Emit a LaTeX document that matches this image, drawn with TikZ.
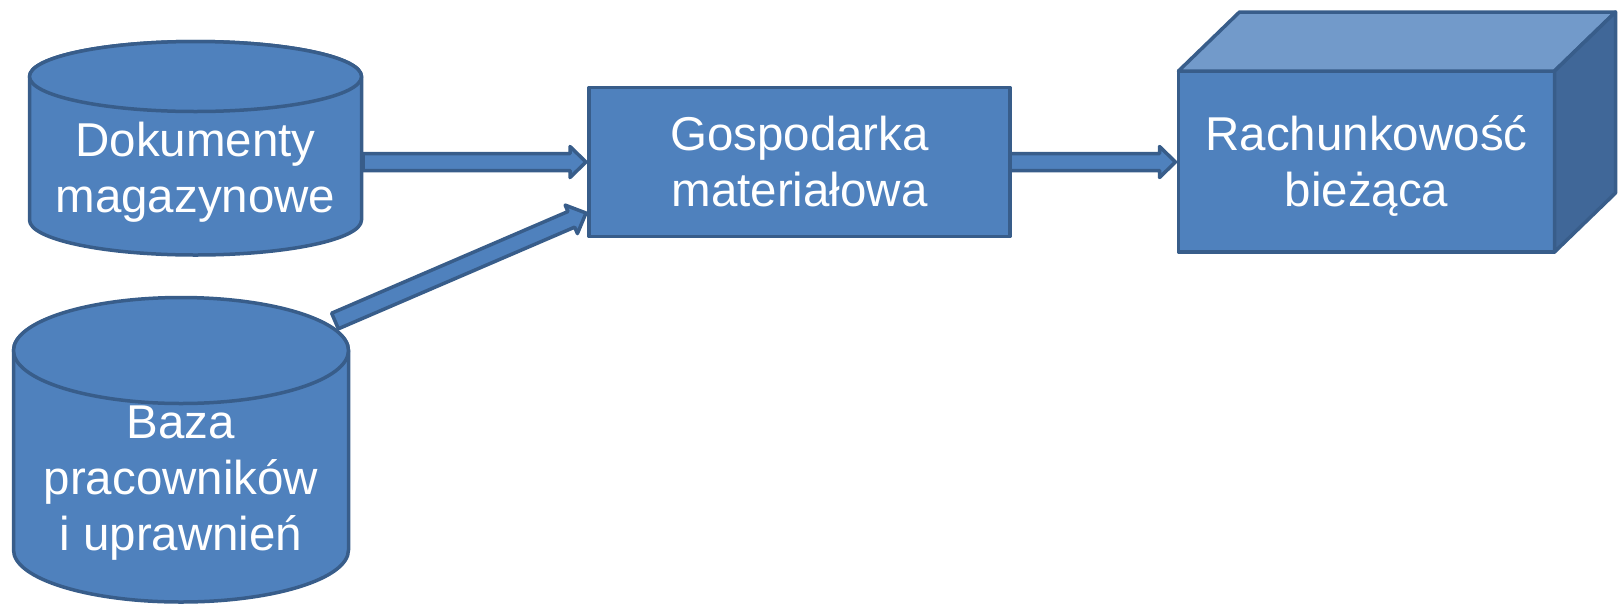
\documentclass[tikz,border=0pt]{standalone}
\usepackage{fontspec}
\setmainfont{Liberation Sans}
\usetikzlibrary{calc}
\definecolor{fillblue}{HTML}{4F81BD}
\definecolor{edgeblue}{HTML}{385D8A}
\definecolor{topblue}{HTML}{729ACA}
\definecolor{sideblue}{HTML}{406798}
\tikzset{
  lbl/.style={text=white, font=\fontsize{47.5}{56}\selectfont, align=center, inner sep=0pt},
  shapefill/.style={fill=fillblue, draw=edgeblue, line width=3.5pt, line join=round, outer sep=0pt},
  arrowshape/.style={fill=fillblue, draw=edgeblue, line width=3.5pt, line join=round},
}
\newcommand{\blockarrow}[2]{%
  \path[arrowshape] let \p1=#1, \p2=#2,
    \n1={atan2(\y2-\y1,\x2-\x1)}, \n2={veclen(\x2-\x1,\y2-\y1)} in
    [shift={(\p1)}, rotate=\n1]
    (0pt,-8.5pt) -- (\n2-16pt,-8.5pt) -- (\n2-16pt,-15.5pt) -- (\n2,0pt)
    -- (\n2-16pt,15.5pt) -- (\n2-16pt,8.5pt) -- (0pt,8.5pt) -- cycle;}
\begin{document}
\begin{tikzpicture}[x=1pt,y=1pt]
\useasboundingbox (0,0) rectangle (1623,-606);
% cylinder 1
\path[shapefill] (29.5,-76.5) -- (29.5,-220)
  arc[start angle=180,end angle=360,x radius=166,y radius=35]
  -- (361.5,-76.5)
  arc[start angle=0,end angle=180,x radius=166,y radius=35] -- cycle;
\draw[shapefill] (195.5,-76.5) ellipse[x radius=166,y radius=35];
\node[lbl, minimum width=335pt] (dok) at (195.5,-172) {Dokumenty\\magazynowe};
% cylinder 2
\path[shapefill] (13.5,-350.5) -- (13.5,-550)
  arc[start angle=180,end angle=360,x radius=167.5,y radius=52]
  -- (348.5,-350.5)
  arc[start angle=0,end angle=180,x radius=167.5,y radius=52] -- cycle;
\draw[shapefill] (181,-350.5) ellipse[x radius=167.5,y radius=53];
\node[lbl] (baza) at (181,-483) {Baza\\pracowników\\i uprawnień};
\coordinate (bazaTop) at (335,-321);
% middle box
\node[shapefill, lbl, minimum width=421pt, minimum height=149pt] (gos) at (799.5,-162) {Gospodarka\\materiałowa};
% cube
\node[shapefill, lbl, minimum width=376pt, minimum height=181pt, text depth=0pt] (rach) at (1366.5,-161.5) {Rachunkowość\\bieżąca};
\draw[shapefill, fill=topblue] (rach.north west) -- ([shift={(61,59)}]rach.north west)
  -- ([shift={(61,59)}]rach.north east) -- (rach.north east) -- cycle;
\draw[shapefill, fill=sideblue] (rach.north east) -- ([shift={(61,59)}]rach.north east)
  -- ([shift={(61,59)}]rach.south east) -- (rach.south east) -- cycle;
% arrows
\blockarrow{(dok.east |- gos.west)}{([xshift=-3pt]gos.west)}
\blockarrow{(bazaTop)}{([shift={(-3pt,-51pt)}]gos.west)}
\blockarrow{(gos.east)}{([xshift=-3pt]rach.west |- gos.east)}
\end{tikzpicture}
\end{document}
